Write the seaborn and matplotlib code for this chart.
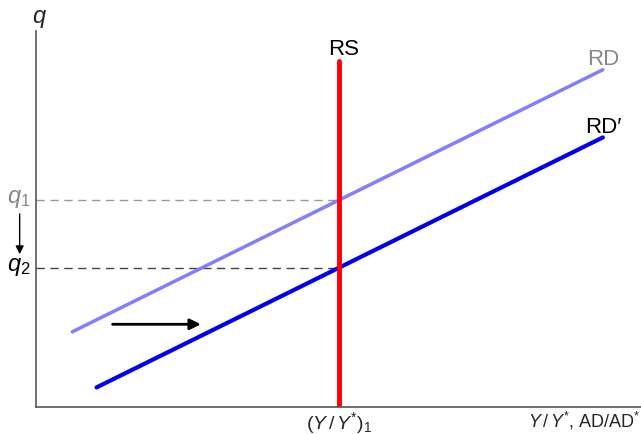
import matplotlib
matplotlib.use("Agg")
import matplotlib.pyplot as plt
import seaborn as sns
import pandas as pd

# data (arbitrary diagram units)
rd_x = [0.6, 9.37]
rd_y = [2.0, 8.97]
rdp_x = [1.0, 9.37]
rdp_y = [0.52, 7.17]
rs_x = [5.0, 5.0]
rs_y = [0.0, 9.2]
q1 = 5.5
q2 = 3.7
shift_arrow_x = [1.22, 2.77]
shift_arrow_y = 2.2
labels = {"rd": "RD", "rdp": "RD′", "rs": "RS"}

sns.set_style("white")
plt.rcParams['font.family'] = ['Liberation Sans', 'DejaVu Sans']
plt.rcParams['mathtext.fontset'] = 'custom'
plt.rcParams['mathtext.it'] = 'Liberation Sans:italic'
plt.rcParams['mathtext.rm'] = 'Liberation Sans'

fig = plt.figure(figsize=(6.41, 4.35), dpi=100)
ax = fig.add_axes([36/641, 27/435, 605/641, 376/435])

df_rd = pd.DataFrame({"x": rd_x, "y": rd_y})
df_rdp = pd.DataFrame({"x": rdp_x, "y": rdp_y})
df_rs = pd.DataFrame({"x": rs_x, "y": rs_y})

ax.plot([0, rs_x[0]], [q1, q1], color="#999999", lw=1, dashes=(6, 4))
ax.plot([0, rs_x[0]], [q2, q2], color="#444444", lw=1, dashes=(6, 4))
sns.lineplot(data=df_rd, x="x", y="y", ax=ax, color="#7f7fff", lw=2.5,
             estimator=None, sort=False)
sns.lineplot(data=df_rdp, x="x", y="y", ax=ax, color="#0000ee", lw=3,
             estimator=None, sort=False)
sns.lineplot(data=df_rs, x="x", y="y", ax=ax, color="#ff0000", lw=3.5,
             estimator=None, sort=False)

ax.set_xlim(0, 10)
ax.set_ylim(0, 10)
ax.set_xticks([])
ax.set_yticks([])
ax.set_xlabel("")
ax.set_ylabel("")
for s in ["top", "right"]:
    ax.spines[s].set_visible(False)
for s in ["left", "bottom"]:
    ax.spines[s].set_color("#555555")
    ax.spines[s].set_linewidth(1.2)

ax.text(rd_x[1], rd_y[1] + 0.02, labels["rd"], color="#888888", fontsize=16, ha="center", va="bottom")
ax.text(rdp_x[1], rdp_y[1] + 0.02, labels["rdp"], color="black", fontsize=16, ha="center", va="bottom")
ax.text(rs_x[0] + 0.08, rs_y[1] + 0.05, labels["rs"], color="black", fontsize=16, ha="center", va="bottom")

ax.text(0.05, 10.05, r"$q$", fontsize=17, ha="center", va="bottom", clip_on=False)
ax.text(-0.09, q1 + 0.05, r"$q_1$", fontsize=17, color="#888888", ha="right", va="center")
ax.text(-0.09, q2 + 0.05, r"$q_2$", fontsize=17, color="black", ha="right", va="center")

ax.annotate("", xy=(-0.27, 3.99), xytext=(-0.27, 5.21),
            arrowprops=dict(arrowstyle="-|>", color="black", lw=1, mutation_scale=12),
            annotation_clip=False)
ax.annotate("", xy=(shift_arrow_x[1], shift_arrow_y), xytext=(shift_arrow_x[0], shift_arrow_y),
            arrowprops=dict(arrowstyle="-|>", color="black", lw=2, mutation_scale=16))

ax.text(rs_x[0], -0.05, r"$(Y\,/\,Y^{*})_1$", fontsize=14, ha="center", va="top", clip_on=False)
ax.text(10, -0.05, r"$Y\,/\,Y^{*}$, AD/AD$^{*}$", fontsize=13, ha="right", va="top", clip_on=False)

fig.savefig("out.png", dpi=100)
